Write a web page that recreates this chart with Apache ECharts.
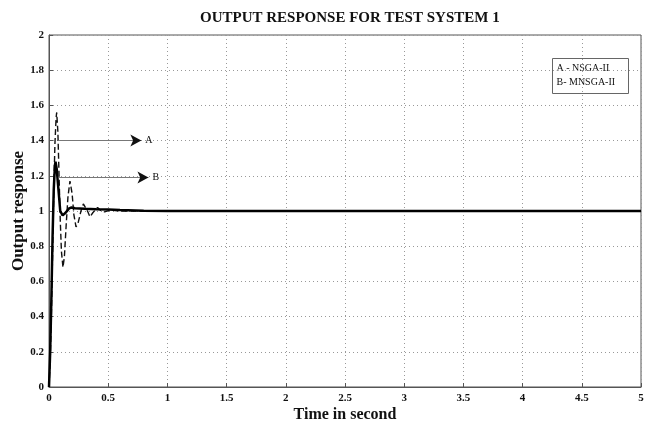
<!DOCTYPE html>
<html>
<head>
<meta charset="utf-8">
<script src="https://cdn.jsdelivr.net/npm/echarts@6/dist/echarts.min.js"></script>
<style>
  html, body { margin: 0; padding: 0; background: #fff; }
  #chart { width: 657px; height: 428px; }
</style>
</head>
<body>
<div id="chart"></div>
<script>
// solid curve (time, response)
const solidT = [0, 0.01, 0.02, 0.03, 0.04, 0.05, 0.055, 0.065, 0.08, 0.095, 0.115, 0.14, 0.17, 0.19, 0.22, 0.3, 0.4, 0.5, 0.6, 0.8, 1.0, 5]
const solidY = [0, 0.2, 0.5, 0.85, 1.12, 1.26, 1.28, 1.24, 1.12, 1.0, 0.975, 0.99, 1.015, 1.02, 1.016, 1.013, 1.01, 1.008, 1.005, 1.002, 1.0, 1.0]

// dashed curve
const dashT = [0, 0.01, 0.02, 0.03, 0.04, 0.05, 0.06, 0.065, 0.075, 0.085, 0.095, 0.105, 0.118, 0.13, 0.145, 0.16, 0.177, 0.195, 0.21, 0.228, 0.245, 0.27, 0.29, 0.304, 0.325, 0.346, 0.37, 0.41, 0.44, 0.47, 0.52, 0.6, 5]
const dashY = [0, 0.15, 0.4, 0.75, 1.1, 1.38, 1.53, 1.56, 1.45, 1.2, 0.95, 0.77, 0.68, 0.74, 0.92, 1.08, 1.17, 1.1, 0.98, 0.91, 0.93, 1.0, 1.04, 1.045, 1.0, 0.967, 0.99, 1.02, 1.0, 0.995, 1.005, 1.0, 1.0]

// annotation arrows: [startT, endT, level, label]
const arrows = [
  [0.085, 0.78, 1.40, 'A'],
  [0.085, 0.84, 1.19, 'B']
]

const legendLines = ['A - NSGA-II', 'B- MNSGA-II']

const serif = '"Liberation Serif", "DejaVu Serif", serif'
const zip = (t, y) => t.map((v, i) => [v, y[i]])

const chart = echarts.init(document.getElementById('chart'), null, { renderer: 'canvas' })

const axisCommon = {
  axisLine: { show: true, lineStyle: { color: '#555', width: 1 } },
  axisTick: { show: true, inside: true, length: 4, lineStyle: { color: '#555' } },
  splitLine: { show: true, lineStyle: { color: '#999', type: [1, 3], width: 1 } },
  axisLabel: { color: '#111', fontFamily: serif, fontWeight: 'bold', fontSize: 11 }
}

chart.setOption({
  animation: false,
  backgroundColor: '#fff',
  title: {
    text: 'OUTPUT RESPONSE FOR TEST SYSTEM 1',
    left: 195, top: 6,
    textStyle: { fontFamily: serif, fontWeight: 'bold', fontSize: 15, color: '#111' }
  },
  grid: {
    left: 49, right: 16, top: 35, bottom: 41,
    outerBoundsMode: 'none', containLabel: false,
    show: true, borderColor: '#555', borderWidth: 1
  },
  xAxis: {
    type: 'value', min: 0, max: 5, interval: 0.5,
    name: 'Time in second', nameLocation: 'middle', nameGap: 20, nameMoveOverlap: false,
    nameTextStyle: { fontFamily: serif, fontWeight: 'bold', fontSize: 16, color: '#111' },
    ...axisCommon,
    axisLabel: { ...axisCommon.axisLabel, margin: 6 }
  },
  yAxis: {
    type: 'value', min: 0, max: 2, interval: 0.2,
    name: 'Output response', nameLocation: 'middle', nameGap: 22, nameRotate: 90, nameMoveOverlap: false,
    nameTextStyle: { fontFamily: serif, fontWeight: 'bold', fontSize: 17, color: '#111' },
    ...axisCommon,
    axisLabel: { ...axisCommon.axisLabel, margin: 5, formatter: v => String(+v.toFixed(1)) }
  },
  graphic: [{
    type: 'group', left: 552, top: 58,
    children: [
      { type: 'rect', shape: { x: 0, y: 0, width: 76, height: 35 }, style: { fill: '#fff', stroke: '#666', lineWidth: 1 } },
      { type: 'text', x: 4, y: 5, style: { text: legendLines[0], font: '10px ' + serif, fill: '#111' } },
      { type: 'text', x: 4, y: 19, style: { text: legendLines[1], font: '10px ' + serif, fill: '#111' } }
    ]
  }],
  series: [
    {
      type: 'line', data: zip(dashT, dashY), showSymbol: false,
      lineStyle: { color: '#111', width: 1.4, type: [6, 3] }, z: 3
    },
    {
      type: 'line', data: zip(solidT, solidY), showSymbol: false,
      lineStyle: { color: '#000', width: 2.5 }, z: 4,
      markLine: {
        silent: true,
        symbol: ['none', 'none'],
        lineStyle: { color: '#777', width: 1, type: 'solid' },
        label: { show: false },
        data: arrows.map(a => [
          { coord: [a[0], a[2]] },
          { coord: [a[1], a[2]] }
        ])
      },
      markPoint: {
        silent: true,
        symbol: 'arrow', symbolRotate: -90, symbolSize: [9, 11],
        itemStyle: { color: '#111' },
        label: { show: true, position: 'right', distance: 4, fontFamily: serif, fontSize: 10, color: '#111', formatter: p => p.name },
        data: arrows.map(a => ({ coord: [a[1], a[2]], name: a[3] }))
      }
    }
  ]
})
</script>
</body>
</html>
